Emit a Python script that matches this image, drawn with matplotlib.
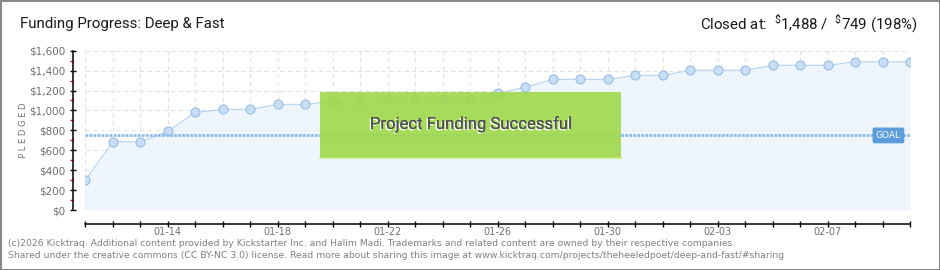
import matplotlib
matplotlib.use("Agg")
import matplotlib.pyplot as plt
import matplotlib.patches as mpatches
import matplotlib.patheffects as pe
import numpy as np
import datetime as dt

# ---- data ----
start_date = dt.date(2026, 1, 11)
pledged = [300, 685, 685, 790, 980, 1010, 1010, 1060, 1060, 1094, 1094,
           1111, 1111, 1111, 1111, 1171, 1232, 1312, 1312, 1312, 1352, 1352,
           1403, 1403, 1403, 1453, 1453, 1453, 1488, 1488, 1488]
goal = 749
closed_total = 1488
closed_pct = 198
y_ticks = [0, 200, 400, 600, 800, 1000, 1200, 1400, 1600]
y_labels = ["$0", "$200", "$400", "$600", "$800", "$1,000", "$1,200", "$1,400", "$1,600"]
label_every = 4
label_offset = 3

dates = [start_date + dt.timedelta(days=i) for i in range(len(pledged))]
x = np.arange(len(pledged))
x_labels = [d.strftime("%m-%d") if (i - label_offset) % label_every == 0 else ""
            for i, d in enumerate(dates)]

title_font = ['Roboto', 'DejaVu Sans']

fig = plt.figure(figsize=(9.4, 2.7), dpi=100)
fig.patch.set_facecolor("white")
ax = fig.add_axes([85.3 / 940, 1 - 210 / 270, (910 - 85.3) / 940, (210 - 50.7) / 270])
ax.set_facecolor("white")

ax.set_xlim(0, len(pledged) - 1)
ax.set_ylim(0, 1600)

# grid
for xi in x:
    ax.axvline(xi, color="#e2e2e2", lw=0.8, ls=(0, (4, 3)), zorder=0.5)
for yt in y_ticks:
    ax.axhline(yt, color="#e2e2e2", lw=0.8, ls=(0, (4, 3)), zorder=0.5)

# area + line + markers
ax.fill_between(x, pledged, 0, color="#edf4fd", alpha=0.85, zorder=1, lw=0)
ax.plot(x, pledged, color="#b9d5f2", lw=0.9, zorder=2,
        marker="o", markersize=6.5, markerfacecolor="#c8ddf6",
        markeredgecolor="#98bde4", markeredgewidth=0.8)

# goal line
ax.axhline(goal, color="#8dbbea", lw=2.0, ls=(0, (1.0, 0.45)), zorder=3)
ax.text(0.989, goal / 1600, "GOAL", transform=ax.transAxes,
        ha="right", va="center", fontsize=6.5, color="white", zorder=6,
        family="DejaVu Sans",
        bbox=dict(boxstyle="round,pad=0.3,rounding_size=0.15",
                  facecolor="#5d9cdc", edgecolor="#5d9cdc"))

# success box
bx0, bx1 = (320 - 85.3) / 824.7, (621 - 85.3) / 824.7
by0, by1 = (210 - 157.7) / 159.3, (210 - 91.7) / 159.3
box = mpatches.Rectangle((bx0, by0), bx1 - bx0, by1 - by0, transform=ax.transAxes,
                         facecolor="#9fd94a", edgecolor="none", alpha=0.9, zorder=4)
ax.add_patch(box)
ax.plot([bx0, bx1], [by0, by0], transform=ax.transAxes, color="#c2ec7e", lw=1.2, zorder=4.5)
ax.text((bx0 + bx1) / 2, (by0 + by1) / 2 + 0.005, "Project Funding Successful",
        transform=ax.transAxes, ha="center", va="center", fontsize=12,
        color="#505050", family=title_font, zorder=5,
        path_effects=[pe.withSimplePatchShadow(offset=(-1, -1), shadow_rgbFace="white", alpha=1.0),
                      pe.Normal()])

# spines
for s in ["top", "right"]:
    ax.spines[s].set_visible(False)
ax.spines["left"].set_position(("outward", 9))
ax.spines["bottom"].set_position(("outward", 10))
ax.spines["left"].set_linewidth(1.1)
ax.spines["bottom"].set_linewidth(1.1)

ax.set_yticks(y_ticks)
ax.set_yticklabels(y_labels)
ax.set_yticks([100, 300, 500, 700, 900, 1100, 1300, 1500], minor=True)
ax.tick_params(axis="y", which="major", direction="inout", length=5, width=1.0,
               labelsize=7.5, labelcolor="#707070", pad=3)
ax.tick_params(axis="y", which="minor", direction="out", length=2.4, width=1.0,
               color="#e00000")
ax.set_xticks(x)
ax.set_xticklabels(x_labels)
ax.tick_params(axis="x", which="major", direction="inout", length=5, width=1.0,
               labelsize=7, labelcolor="#707070", pad=0)

ax.set_ylabel("P L E D G E D", fontsize=6, color="#707070", labelpad=1)

# title and summary
fig.text(20 / 940, 1 - 24 / 270, "Funding Progress: Deep & Fast", fontsize=10.8,
         family=title_font, color="#1a1a1a", ha="left", va="center")
plt.rcParams["mathtext.fontset"] = "custom"
plt.rcParams["mathtext.rm"] = "Roboto"
closed_text = (r"Closed at:  $^{\$}$" + f"{closed_total:,}" + r" /  $^{\$}$" + f"{goal}"
               + f" ({closed_pct}%)")
fig.text(918 / 940, 1 - 24 / 270, closed_text, fontsize=10.8,
         family=title_font, color="#1a1a1a", ha="right", va="center")

# footer
fig.text(8 / 940, 1 - 243 / 270,
         "(c)2026 Kicktraq. Additional content provided by Kickstarter Inc. and Halim Madi. "
         "Trademarks and related content are owned by their respective companies.",
         fontsize=6.7, color="#808080", ha="left", va="center")
fig.text(8 / 940, 1 - 256 / 270,
         "Shared under the creative commons (CC BY-NC 3.0) license. Read more about sharing "
         "this image at www.kicktraq.com/projects/theheeledpoet/deep-and-fast/#sharing",
         fontsize=6.7, color="#808080", ha="left", va="center")

# border
fig.add_artist(mpatches.Rectangle((0, 0), 1, 1, transform=fig.transFigure, fill=False,
                                  edgecolor="#888888", lw=2.2))

fig.savefig("out.png", dpi=100)
